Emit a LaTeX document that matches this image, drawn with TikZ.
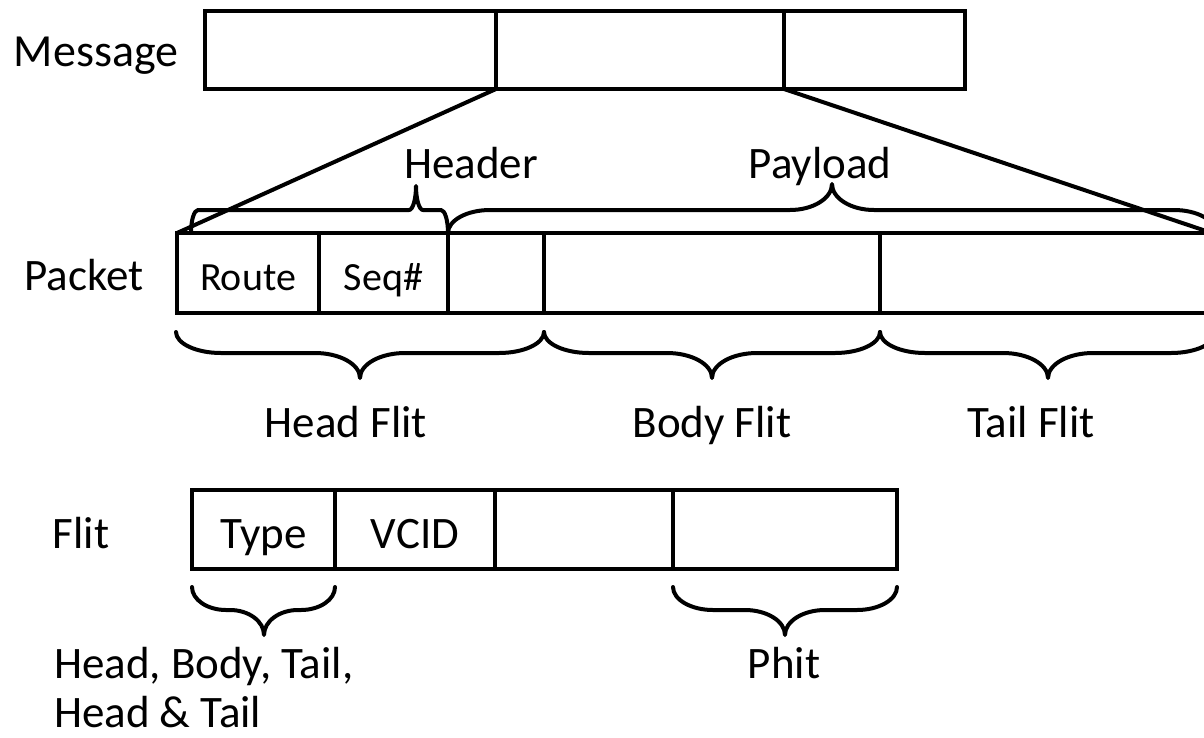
\documentclass[tikz,border=0pt]{standalone}
\usepackage{fontspec}
\setmainfont{Carlito}
\newcommand\flatbrace[7]{%
  \draw[bracestyle] (#1,#4) .. controls (#1,{#4+0.55*(#5-#4)}) and ({#1+0.45*#7},#5) .. ({#1+#7},#5)
    -- ({#2-#7},#5)
    .. controls ({#2-0.45*#7},#5) and (#2,{#5+0.45*(#6-#5)}) .. (#2,#6)
    .. controls (#2,{#5+0.45*(#6-#5)}) and ({#2+0.45*#7},#5) .. ({#2+#7},#5)
    -- ({#3-#7},#5)
    .. controls ({#3-0.45*#7},#5) and (#3,{#4+0.55*(#5-#4)}) .. (#3,#4);}
\begin{document}
\begin{tikzpicture}[x=1pt,y=-1pt,line width=4pt,
  cell/.style={draw,rectangle,inner sep=0pt,outer sep=0pt,anchor=north west,
    minimum width=#1},
  mcell/.style={cell=#1,minimum height=78pt},
  pcell/.style={cell=#1,minimum height=80pt},
  fcell/.style={cell=#1,minimum height=79pt},
  lbl/.style={font=\fontsize{45}{49}\selectfont,inner sep=0pt,anchor=base},
  small/.style={font=\fontsize{40}{48}\selectfont,inner sep=0pt,anchor=base},
  bracestyle/.style={line width=4pt,line cap=round,line join=round},
  conn/.style={line width=4pt}]
\useasboundingbox (0,0) rectangle (1204,737);
\clip (0,0) rectangle (1204,737);
% message
\node[mcell=291pt] (m1) at (205,11) {};
\node[mcell=288pt] (m2) at (496,11) {};
\node[mcell=181pt] (m3) at (784,11) {};
% packet
\node[pcell=142pt] (p1) at (177,233) {};
\node[pcell=129pt] (p2) at (319,233) {};
\node[pcell=96pt]  (p3) at (448,233) {};
\node[pcell=336pt] (p4) at (544,233) {};
\node[pcell=332pt] (p5) at (880,233) {};
% flit
\node[fcell=143pt] (f1) at (192,490) {};
\node[fcell=160pt] (f2) at (335,490) {};
\node[fcell=178pt] (f3) at (495,490) {};
\node[fcell=224pt] (f4) at (673,490) {};
% connectors
\draw[conn] (m2.south west) -- (p1.north west);
\draw[conn] (m3.south west) -- (p5.north east);
% braces
\flatbrace{191}{416}{448}{233}{210}{186}{7}
\flatbrace{448}{832}{1216}{233}{210}{184}{42}
\flatbrace{176}{360}{544}{332}{353}{378}{45}
\flatbrace{544}{712}{880}{332}{353}{378}{45}
\flatbrace{880}{1048}{1216}{332}{353}{378}{45}
\flatbrace{192}{264}{335}{587}{610}{635}{34}
\flatbrace{673}{785}{897}{587}{610}{635}{40}
% labels
\node[lbl,font=\fontsize{46}{50}\selectfont] (tmsg) at (96,66) {Message};
\node[lbl] (thdr) at (471,178) {Header};
\node[lbl] (tpay) at (820,178) {Payload};
\node[lbl] (tpkt) at (84,290) {Packet};
\node[small] (troute) at (p1.center |- 0,290) {Route};
\node[small] (tseq) at (p2.center |- 0,290) {Seq\#};
\node[lbl] (thf) at (346,437) {Head Flit};
\node[lbl] (tbf) at (712,437) {Body Flit};
\node[lbl] (ttf) at (1031,437) {Tail Flit};
\node[lbl] (tflit) at (81,548) {Flit};
\node[lbl] (ttype) at (f1.center |- 0,548) {Type};
\node[lbl] (tvcid) at (f2.center |- 0,548) {VCID};
\node[lbl,anchor=base west,align=left] (ttypes) at (52,727) {Head, Body, Tail,\\Head \& Tail};
\node[lbl] (tphit) at (784,678) {Phit};
\end{tikzpicture}
\end{document}
